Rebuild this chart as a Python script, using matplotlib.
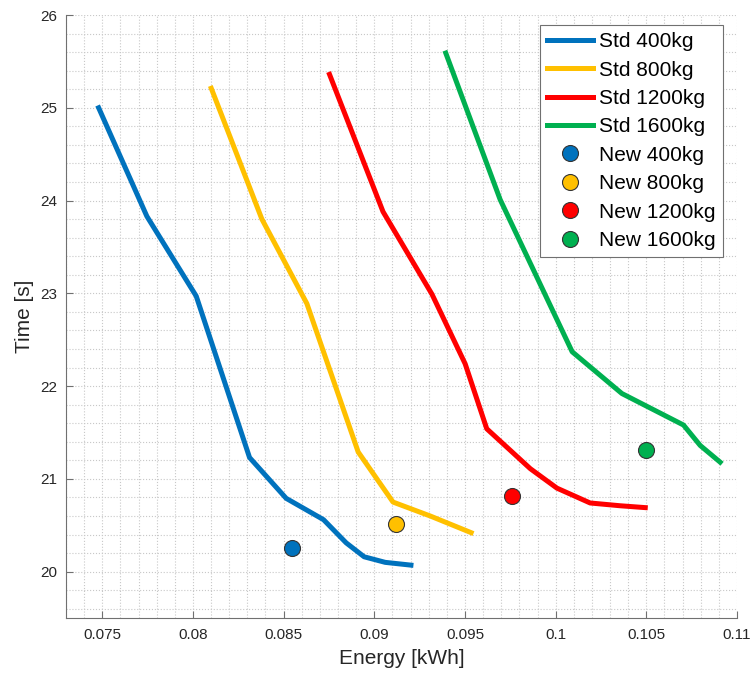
import matplotlib.pyplot as plt
from matplotlib.ticker import MultipleLocator

# Std curves (energy in kWh, time in s)
std400_e = [0.0748, 0.07746, 0.08018, 0.08312, 0.08514, 0.0872, 0.08845, 0.08944, 0.0906, 0.09202]
std400_t = [25.00, 23.83, 22.97, 21.23, 20.79, 20.56, 20.31, 20.16, 20.10, 20.07]

std800_e = [0.08101, 0.0838, 0.08628, 0.08911, 0.09103, 0.09308, 0.09534]
std800_t = [25.21, 23.80, 22.89, 21.29, 20.75, 20.60, 20.42]

std1200_e = [0.08753, 0.09048, 0.09318, 0.09501, 0.0962, 0.0986, 0.10007, 0.1019, 0.10356, 0.10494]
std1200_t = [25.36, 23.88, 22.99, 22.24, 21.54, 21.11, 20.90, 20.74, 20.71, 20.69]

std1600_e = [0.09394, 0.09694, 0.10091, 0.10365, 0.10705, 0.10797, 0.10907]
std1600_t = [25.59, 24.01, 22.37, 21.92, 21.58, 21.36, 21.18]

# New design points
new_e = [0.08546, 0.09119, 0.09759, 0.10497]
new_t = [20.25, 20.51, 20.82, 21.31]

masses = ["400kg", "800kg", "1200kg", "1600kg"]
colors = ["#0072BD", "#FFC000", "#FF0000", "#00B050"]


def main():
    plt.rcParams['font.family'] = ['Liberation Sans', 'DejaVu Sans']
    fig = plt.figure(figsize=(7.5, 6.73), dpi=100)
    ax = fig.add_axes([0.088, 0.0817, 0.8947, 0.896])

    std_e = [std400_e, std800_e, std1200_e, std1600_e]
    std_t = [std400_t, std800_t, std1200_t, std1600_t]
    for e, t, m, c in zip(std_e, std_t, masses, colors):
        ax.plot(e, t, color=c, linewidth=3.6, label=f"Std {m}", zorder=3)
    for e, t, m, c in zip(new_e, new_t, masses, colors):
        ax.plot(e, t, linestyle='none', marker='o', markersize=11.5,
                markerfacecolor=c, markeredgecolor='#333333',
                markeredgewidth=0.8, label=f"New {m}", zorder=4)

    ax.set_xlim(0.073, 0.11)
    ax.set_ylim(19.5, 26)
    ax.xaxis.set_minor_locator(MultipleLocator(0.001))
    ax.yaxis.set_major_locator(MultipleLocator(1))
    ax.yaxis.set_minor_locator(MultipleLocator(0.2))
    ax.set_xticks([0.075, 0.08, 0.085, 0.09, 0.095, 0.1, 0.105, 0.11])
    ax.set_xticklabels(["0.075", "0.08", "0.085", "0.09", "0.095", "0.1", "0.105", "0.11"])

    ax.grid(which='both', linestyle=':', color='#c8c8c8', linewidth=0.8)
    ax.set_axisbelow(True)
    ax.tick_params(which='major', direction='in', length=5, width=0.8,
                   colors='#707070', labelcolor='#262626', labelsize=11)
    ax.tick_params(axis='x', pad=7)
    ax.tick_params(axis='y', pad=6)
    ax.tick_params(which='minor', length=0)
    for side in ['top', 'right']:
        ax.spines[side].set_visible(False)
    for side in ['left', 'bottom']:
        ax.spines[side].set_color('#707070')
        ax.spines[side].set_linewidth(0.8)

    ax.set_xlabel("Energy [kWh]", fontsize=15, color='#262626', labelpad=5)
    ax.set_ylabel("Time [s]", fontsize=15, color='#262626', labelpad=5)

    leg = ax.legend(loc='upper right', bbox_to_anchor=(723 / 750, 1 - 25 / 673),
                    bbox_transform=fig.transFigure, borderaxespad=0,
                    fontsize=15, fancybox=False, edgecolor='#707070',
                    framealpha=1, handlelength=2.2, handletextpad=0.3,
                    labelspacing=0.45, borderpad=0.35)
    leg.get_frame().set_linewidth(0.8)

    fig.savefig("out.png", dpi=100)


if __name__ == '__main__':
    main()
